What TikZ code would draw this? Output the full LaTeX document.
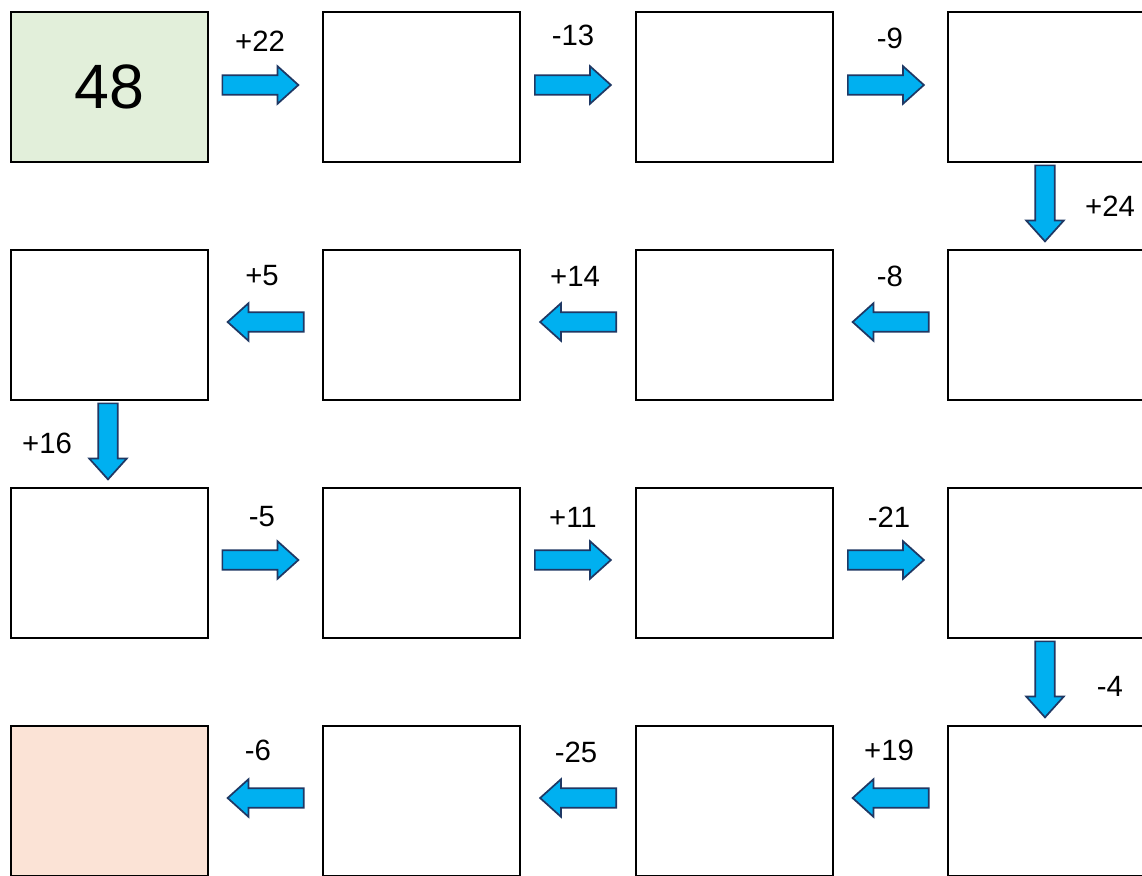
\documentclass[tikz,border=0pt]{standalone}
\usepackage{fontspec}
\setmainfont{Liberation Sans}
\usepackage{xcolor}
\usetikzlibrary{shapes.arrows,positioning}
\definecolor{ChainGreen}{HTML}{E2EFDA}
\definecolor{ChainPeach}{HTML}{FBE3D6}
\definecolor{ChainCyan}{HTML}{00B0F0}
\definecolor{ChainNavy}{HTML}{1F3864}

\begin{document}
\begin{tikzpicture}[
  x=0.75pt, y=-0.75pt,
  cell/.style={draw=black, line width=1.5pt, fill=#1, minimum width=147.75pt, minimum height=112.5pt, inner sep=0pt},
  cell/.default=white,
  flow/.style={single arrow, draw=ChainNavy, fill=ChainCyan, line width=1.3pt,
    minimum height=57pt, inner sep=6.6pt, single arrow head extend=6.8pt,
    single arrow tip angle=84, rotate=#1},
  flow/.default=0,
  step label/.style={font=\fontsize{22}{26}\selectfont, inner sep=0pt}
]
\useasboundingbox (0,0) rectangle (1142,875);
\clip (0,0) rectangle (1142,875);

% grid of cells
\node[cell=ChainGreen, font=\fontsize{47}{52}\selectfont] (c11) at (109.5,87) {48};
\node[cell] (c12) at (421.5,87) {};
\node[cell] (c13) at (734.5,87) {};
\node[cell] (c14) at (1046.5,87) {};
\node[cell] (c21) at (109.5,325) {};
\node[cell] (c22) at (421.5,325) {};
\node[cell] (c23) at (734.5,325) {};
\node[cell] (c24) at (1046.5,325) {};
\node[cell] (c31) at (109.5,563) {};
\node[cell] (c32) at (421.5,563) {};
\node[cell] (c33) at (734.5,563) {};
\node[cell] (c34) at (1046.5,563) {};
\node[cell=ChainPeach] (c41) at (109.5,801) {};
\node[cell] (c42) at (421.5,801) {};
\node[cell] (c43) at (734.5,801) {};
\node[cell] (c44) at (1046.5,801) {};

% row 1
\node[flow] (a1) at (255,85) {};
\node[flow] (a2) at (567.5,85) {};
\node[flow] (a3) at (880.5,85) {};
\node[step label] at (260,41) {+22};
\node[step label] at (573,35) {-13};
\node[step label] at (890,38) {-9};

\node[flow=-90] (a4) at (1045,198) {};
\node[step label] at (1110,206) {+24};

% row 2
\node[flow=180] (a5) at (896,322) {};
\node[flow=180] (a6) at (583.5,322) {};
\node[flow=180] (a7) at (271,322) {};
\node[step label] at (890,276) {-8};
\node[step label] at (575,276) {+14};
\node[step label] at (262,276) {+5};

\node[flow=-90] (a8) at (108,436) {};
\node[step label] at (47,443) {+16};

% row 3
\node[flow] (a9) at (255,560) {};
\node[flow] (a10) at (567.5,560) {};
\node[flow] (a11) at (880.5,560) {};
\node[step label] at (262,517) {-5};
\node[step label] at (573,517) {+11};
\node[step label] at (889,517) {-21};

\node[flow=-90] (a12) at (1045,674) {};
\node[step label] at (1110,686) {-4};

% row 4
\node[flow=180] (a13) at (896,798) {};
\node[flow=180] (a14) at (583.5,798) {};
\node[flow=180] (a15) at (271,798) {};
\node[step label] at (889,750) {+19};
\node[step label] at (576,752) {-25};
\node[step label] at (258,750) {-6};
\end{tikzpicture}
\end{document}
